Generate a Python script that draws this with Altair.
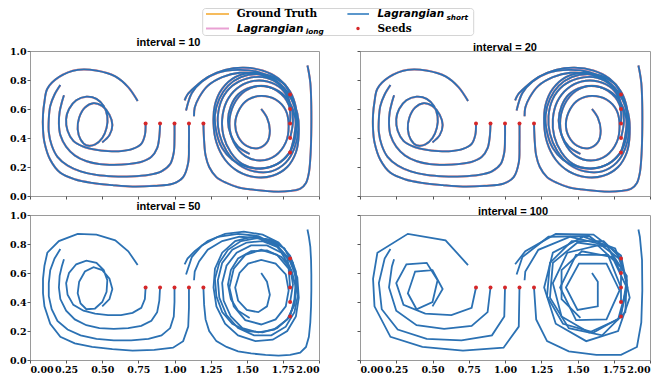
import altair as alt
import pandas as pd

# ---------------- data ----------------
titles = ["interval = 10", "interval = 20", "interval = 50", "interval = 100"]
x_ticks = [0.0, 0.25, 0.5, 0.75, 1.0, 1.25, 1.5, 1.75, 2.0]
y_ticks = [0.0, 0.2, 0.4, 0.6, 0.8, 1.0]

seed_x = [0.8, 0.9, 1.0, 1.1, 1.2, 1.8, 1.8, 1.8, 1.8, 1.8]
seed_y = [0.5, 0.5, 0.5, 0.5, 0.5, 0.3, 0.4, 0.5, 0.6, 0.7]

# pathlines, vertices as seen at interval = 50
path_s11 = [(1.10, 0.50), (1.10, 0.36), (1.095, 0.23), (1.06, 0.13), (0.99, 0.085), (0.86, 0.07),
            (0.71, 0.065), (0.57, 0.075), (0.43, 0.09), (0.31, 0.115), (0.21, 0.16), (0.14, 0.25),
            (0.10, 0.37), (0.09, 0.46), (0.09, 0.56), (0.10, 0.65), (0.12, 0.74), (0.20, 0.82),
            (0.33, 0.87), (0.46, 0.865), (0.59, 0.825), (0.68, 0.75), (0.745, 0.655)]
path_s10 = [(1.00, 0.50), (1.00, 0.40), (0.995, 0.30), (0.97, 0.22), (0.91, 0.17), (0.82, 0.145),
            (0.70, 0.135), (0.58, 0.135), (0.46, 0.145), (0.35, 0.17), (0.26, 0.21), (0.19, 0.27),
            (0.15, 0.35), (0.13, 0.44), (0.13, 0.53), (0.14, 0.62), (0.17, 0.70), (0.21, 0.765)]
path_s09 = [(0.90, 0.50), (0.895, 0.41), (0.88, 0.33), (0.84, 0.27), (0.77, 0.235), (0.68, 0.22),
            (0.58, 0.215), (0.48, 0.22), (0.39, 0.24), (0.31, 0.28), (0.25, 0.34), (0.21, 0.42),
            (0.20, 0.50), (0.205, 0.58), (0.22, 0.645), (0.235, 0.695)]
path_s08 = [(0.80, 0.50), (0.795, 0.42), (0.77, 0.36), (0.71, 0.325), (0.63, 0.31), (0.54, 0.31),
            (0.45, 0.32), (0.37, 0.34), (0.30, 0.38), (0.26, 0.45), (0.25, 0.53), (0.27, 0.60),
            (0.32, 0.66), (0.39, 0.685), (0.46, 0.67), (0.51, 0.62), (0.535, 0.55), (0.53, 0.47),
            (0.50, 0.40), (0.45, 0.355), (0.39, 0.35), (0.35, 0.39), (0.33, 0.46), (0.34, 0.54),
            (0.38, 0.61), (0.44, 0.64), (0.50, 0.62), (0.55, 0.56), (0.57, 0.49), (0.55, 0.42),
            (0.50, 0.37)]
path_s12 = [(1.20, 0.50), (1.205, 0.38), (1.215, 0.28), (1.24, 0.20), (1.29, 0.13), (1.36, 0.09),
            (1.44, 0.06), (1.53, 0.045), (1.63, 0.035), (1.72, 0.03), (1.80, 0.035), (1.87, 0.05),
            (1.91, 0.09), (1.93, 0.16), (1.94, 0.26), (1.945, 0.37), (1.947, 0.48), (1.947, 0.59),
            (1.945, 0.69), (1.94, 0.78), (1.93, 0.85), (1.92, 0.90)]
path_r03 = [(1.80, 0.30), (1.83, 0.42), (1.84, 0.55), (1.82, 0.67), (1.76, 0.77), (1.66, 0.83),
            (1.54, 0.85), (1.42, 0.82), (1.33, 0.74), (1.28, 0.63), (1.27, 0.50), (1.29, 0.37),
            (1.35, 0.25), (1.44, 0.17), (1.56, 0.13), (1.68, 0.14), (1.78, 0.20), (1.84, 0.30),
            (1.86, 0.43), (1.85, 0.57), (1.80, 0.69), (1.71, 0.79), (1.58, 0.855), (1.44, 0.87),
            (1.30, 0.85), (1.19, 0.79), (1.12, 0.71), (1.08, 0.59)]
path_r04 = [(1.80, 0.40), (1.82, 0.52), (1.80, 0.64), (1.74, 0.74), (1.64, 0.79), (1.53, 0.79),
            (1.43, 0.74), (1.36, 0.65), (1.33, 0.53), (1.34, 0.41), (1.39, 0.30), (1.47, 0.22),
            (1.58, 0.19), (1.69, 0.21), (1.78, 0.28), (1.83, 0.38), (1.84, 0.50), (1.81, 0.62),
            (1.74, 0.71), (1.64, 0.755), (1.53, 0.75), (1.44, 0.70), (1.39, 0.62), (1.37, 0.52),
            (1.39, 0.42), (1.44, 0.34), (1.52, 0.29)]
path_r05 = [(1.80, 0.50), (1.79, 0.63), (1.71, 0.725), (1.60, 0.76), (1.49, 0.725), (1.41, 0.63),
            (1.38, 0.50), (1.41, 0.37), (1.49, 0.275), (1.60, 0.245), (1.70, 0.28), (1.77, 0.37),
            (1.79, 0.48), (1.77, 0.59), (1.70, 0.665), (1.60, 0.69), (1.51, 0.665), (1.45, 0.60),
            (1.42, 0.50), (1.44, 0.41), (1.50, 0.345), (1.58, 0.33), (1.64, 0.37), (1.66, 0.45),
            (1.64, 0.54), (1.60, 0.60)]
path_r06 = [(1.80, 0.60), (1.78, 0.70), (1.71, 0.78), (1.61, 0.82), (1.50, 0.81), (1.40, 0.76),
            (1.33, 0.67), (1.30, 0.55), (1.31, 0.43), (1.36, 0.31), (1.44, 0.22), (1.55, 0.17),
            (1.67, 0.17), (1.77, 0.23), (1.83, 0.33), (1.855, 0.45), (1.84, 0.58), (1.79, 0.70),
            (1.70, 0.79), (1.58, 0.84), (1.45, 0.85), (1.33, 0.82), (1.23, 0.76), (1.17, 0.68),
            (1.14, 0.61), (1.135, 0.55)]
path_r07 = [(1.80, 0.70), (1.76, 0.77), (1.68, 0.82), (1.57, 0.84), (1.46, 0.82), (1.37, 0.76),
            (1.31, 0.67), (1.28, 0.56), (1.29, 0.44), (1.33, 0.33), (1.40, 0.25), (1.50, 0.20),
            (1.61, 0.19), (1.71, 0.22), (1.79, 0.29), (1.83, 0.39), (1.845, 0.50), (1.84, 0.61),
            (1.80, 0.72), (1.72, 0.81), (1.61, 0.865), (1.48, 0.885), (1.35, 0.87), (1.23, 0.82),
            (1.14, 0.75), (1.09, 0.70), (1.07, 0.66)]

paths = {"s08": path_s08, "s09": path_s09, "s10": path_s10, "s11": path_s11, "s12": path_s12,
         "r03": path_r03, "r04": path_r04, "r05": path_r05, "r06": path_r06, "r07": path_r07}

# ---------------- tables ----------------
def table(step):
    rows = []
    for name, pts in paths.items():
        sel = pts[::step]
        if (len(pts) - 1) % step:
            sel = sel + [pts[-1]]
        for i, (x, y) in enumerate(sel):
            rows.append({"traj": name, "i": i, "x": x, "y": y})
    return pd.DataFrame(rows)

fine_df = table(1)
coarse_df = table(2)
seed_df = pd.DataFrame({"x": seed_x, "y": seed_y})

BLUE = "#2b71b3"
ORANGE = "#f5b041"
PINK = "#e58fcb"
RED = "#d62728"


def panel(title, df, smooth, xlab, ylab, w, dx):
    xenc = alt.X("x:Q", scale=alt.Scale(domain=[0, 2], nice=False, zero=False),
                 axis=alt.Axis(values=x_ticks, format=".2f", labels=xlab, title=None))
    yenc = alt.Y("y:Q", scale=alt.Scale(domain=[0, 1], nice=False, zero=False),
                 axis=alt.Axis(values=y_ticks, format=".1f", labels=ylab, title=None))
    interp = "catmull-rom" if smooth else "linear"
    layers = []
    if smooth:
        for col in (ORANGE, PINK):
            layers.append(alt.Chart(df).mark_line(color=col, strokeWidth=2, interpolate=interp)
                          .encode(x=xenc, y=yenc, detail="traj:N", order="i:Q"))
    layers.append(alt.Chart(df).mark_line(color=BLUE, strokeWidth=1.8, interpolate=interp)
                  .encode(x=xenc, y=yenc, detail="traj:N", order="i:Q"))
    layers.append(alt.Chart(seed_df).mark_circle(color=RED, size=16, opacity=1)
                  .encode(x=xenc, y=yenc))
    return alt.layer(*layers).properties(
        width=w, height=145,
        title=alt.TitleParams(title, font="Liberation Sans", fontSize=11, fontWeight="bold",
                              color="black", anchor="middle", offset=-2, dx=dx))


p1 = panel(titles[0], fine_df, True, False, True, 289, -6)
p2 = panel(titles[1], fine_df, True, False, False, 290, 0)
p3 = panel(titles[2], fine_df, False, True, True, 289, -6)
p4 = panel(titles[3], coarse_df, False, True, False, 290, 8)

# ---------------- legend (drawn by hand, positions relative to the plot's left edge) ----------------
leg_base = alt.Chart(pd.DataFrame({"k": [0]}))
r1, r2 = 6.0, 20.5
legend = alt.layer(
    leg_base.mark_rect(fill="white", stroke="#d4d4d4", strokeWidth=1, cornerRadius=3)
    .encode(x=alt.value(172.7), x2=alt.value(443.7), y=alt.value(0.5), y2=alt.value(27.5)),
    leg_base.mark_rule(color=ORANGE, strokeWidth=2, opacity=0.85)
    .encode(x=alt.value(176), x2=alt.value(199), y=alt.value(r1)),
    leg_base.mark_rule(color=PINK, strokeWidth=2, opacity=0.85)
    .encode(x=alt.value(176), x2=alt.value(199), y=alt.value(r2)),
    leg_base.mark_rule(color="#5b97cc", strokeWidth=2)
    .encode(x=alt.value(317.4), x2=alt.value(339), y=alt.value(r1)),
    leg_base.mark_circle(color=RED, size=12, opacity=1)
    .encode(x=alt.value(328), y=alt.value(r2)),
    leg_base.mark_text(text="Ground Truth", font="DejaVu Serif", fontWeight="bold", fontSize=10.5,
                       align="left", baseline="middle", color="black")
    .encode(x=alt.value(206.7), y=alt.value(r1)),
    leg_base.mark_text(text="Seeds", font="DejaVu Serif", fontWeight="bold", fontSize=10.5,
                       align="left", baseline="middle", color="black")
    .encode(x=alt.value(347.4), y=alt.value(r2)),
    leg_base.mark_text(text="Lagrangian", font="DejaVu Sans", fontWeight="bold", fontStyle="italic",
                       fontSize=10.5, align="left", baseline="middle", color="black")
    .encode(x=alt.value(206.7), y=alt.value(r2)),
    leg_base.mark_text(text="long", font="DejaVu Sans", fontWeight="bold", fontStyle="italic",
                       fontSize=7.3, align="left", baseline="middle", color="black")
    .encode(x=alt.value(275.7), y=alt.value(r2 + 3.5)),
    leg_base.mark_text(text="Lagrangian", font="DejaVu Sans", fontWeight="bold", fontStyle="italic",
                       fontSize=10.5, align="left", baseline="middle", color="black")
    .encode(x=alt.value(347.4), y=alt.value(r1)),
    leg_base.mark_text(text="short", font="DejaVu Sans", fontWeight="bold", fontStyle="italic",
                       fontSize=7.3, align="left", baseline="middle", color="black")
    .encode(x=alt.value(416.4), y=alt.value(r1 + 3.5)),
).properties(width=620, height=31, view=alt.ViewBackground(strokeOpacity=0))

grid = alt.concat(p1, p2, p3, p4, columns=2, bounds="flush",
                  spacing=alt.RowColnumber(row=19, column=41))

chart = alt.vconcat(legend, grid, spacing=12, bounds="flush").properties(padding=0).configure_view(
    stroke="#9a9a9a", strokeWidth=1
).configure_axis(
    domain=False, grid=False, labelFont="DejaVu Serif", labelFontWeight="bold", labelFontSize=9.5,
    labelColor="black", tickColor="#555555", tickSize=3, labelPadding=1
)

chart.save("out.html", embed_options={"renderer": "svg", "actions": False})
